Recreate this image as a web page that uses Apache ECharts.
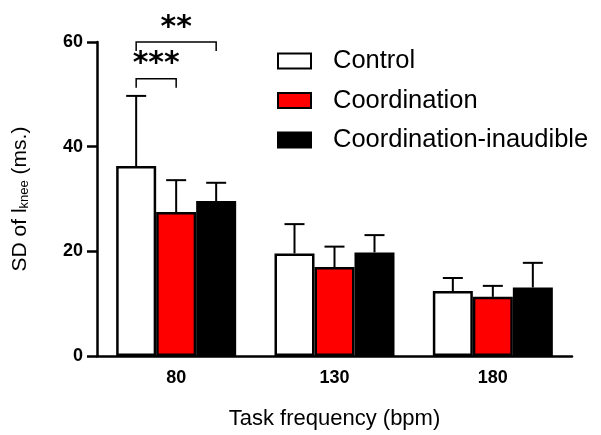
<!DOCTYPE html>
<html><head><meta charset="utf-8">
<script src="https://cdn.jsdelivr.net/npm/echarts@6/dist/echarts.min.js"></script>
<style>html,body{margin:0;padding:0;background:#fff}#c{width:601px;height:435px}</style>
</head><body><div id="c"></div>
<script>
const categories = ['80', '130', '180'];
const seriesNames = ['Control', 'Coordination', 'Coordination-inaudible'];
const controlMean = [36.3, 19.6, 12.4];
const controlSD = [13.4, 5.6, 2.5];
const coordMean = [27.5, 17.0, 11.3];
const coordSD = [6.1, 3.9, 2.1];
const inaudMean = [29.6, 19.8, 13.1];
const inaudSD = [3.5, 3.3, 4.7];
const yTicks = [0, 20, 40, 60];
// significance brackets (category 80): from series, to series, bracket level, label
const sigLabels = ['***', '**'];
const sigFrom = [0, 0];
const sigTo = [1, 2];
const sigLevel = [53, 60];

const means = [controlMean, coordMean, inaudMean];
const sds = [controlSD, coordSD, inaudSD];
const colors = ['#ffffff', '#ff0000', '#000000'];
const BAR_W = 40;
const FONT = '"Liberation Sans", Arial, sans-serif';

const chart = echarts.init(document.getElementById('c'), null, {renderer: 'canvas'});

const series = [];
means.forEach((m, i) => {
  series.push({
    name: seriesNames[i], type: 'bar', data: m, barWidth: BAR_W, barGap: '0%',
    itemStyle: {color: colors[i], borderColor: '#000', borderWidth: 2.5},
    z: 2
  });
});
means.forEach((m, i) => {
  series.push({
    type: 'custom', name: seriesNames[i] + ' SD', z: 3,
    data: m.map((v, k) => [k, v, v + sds[i][k]]),
    renderItem: function (params, api) {
      const c0 = api.coord([api.value(0), api.value(1)]);
      const c1 = api.coord([api.value(0), api.value(2)]);
      const x = c0[0] + (i - 1) * BAR_W;
      const half = 10;
      const st = {stroke: '#000', lineWidth: 2};
      return {type: 'group', children: [
        {type: 'line', shape: {x1: x, y1: c0[1], x2: x, y2: c1[1]}, style: st},
        {type: 'line', shape: {x1: x - half, y1: c1[1], x2: x + half, y2: c1[1]}, style: st}
      ]};
    }
  });
});

chart.setOption({
  animation: false,
  backgroundColor: '#fff',
  grid: {left: 97, right: 29, top: 42, bottom: 75},
  legend: {
    data: seriesNames.map(n => ({name: n, icon: 'rect'})), orient: 'vertical', left: 277, top: 46, padding: 0,
    itemWidth: 33, itemHeight: 15, itemGap: 9.5,
    textStyle: {fontFamily: FONT, fontSize: 25.5, color: '#000', padding: [0, 0, 0, 17], lineHeight: 30},
    selectedMode: false
  },
  xAxis: {
    type: 'category', data: categories,
    name: 'Task frequency (bpm)', nameLocation: 'middle', nameGap: 52,
    nameTextStyle: {fontFamily: FONT, fontSize: 22, color: '#000'},
    axisLine: {lineStyle: {color: '#000', width: 2.5}},
    axisTick: {alignWithLabel: true, length: 10, lineStyle: {color: '#000', width: 2.5}},
    axisLabel: {fontFamily: FONT, fontSize: 18, fontWeight: 'bold', color: '#000', margin: 13}
  },
  yAxis: {
    type: 'value', min: yTicks[0], max: yTicks[yTicks.length - 1], interval: yTicks[1] - yTicks[0],
    name: 'SD of l{sub|knee} (ms.)', nameLocation: 'middle', nameGap: 66,
    nameTextStyle: {fontFamily: FONT, fontSize: 21, color: '#000',
      rich: {sub: {fontFamily: FONT, fontSize: 13, color: '#000', verticalAlign: 'bottom', padding: [8, 0, 0, 0]}}},
    axisLine: {show: true, lineStyle: {color: '#000', width: 2.5}},
    axisTick: {show: true, length: 10, lineStyle: {color: '#000', width: 2.5}},
    splitLine: {show: false},
    axisLabel: {fontFamily: FONT, fontSize: 18, fontWeight: 'bold', color: '#000', margin: 14}
  },
  series: series
});

// significance brackets
const graphics = [];
sigLabels.forEach((lab, j) => {
  const cx = chart.convertToPixel({xAxisIndex: 0}, categories[0]);
  const xa = cx + (sigFrom[j] - 1) * BAR_W;
  const xb = cx + (sigTo[j] - 1) * BAR_W;
  const yTop = chart.convertToPixel({yAxisIndex: 0}, sigLevel[j]);
  const yLeg = yTop + 9;
  const st = {stroke: '#000', lineWidth: 1.5, fill: null};
  graphics.push({type: 'polyline', shape: {points: [[xa, yLeg], [xa, yTop], [xb, yTop], [xb, yLeg]]}, style: st, z: 10});
  graphics.push({type: 'text', x: (xa + xb) / 2, y: yTop - 14,
    style: {text: lab, font: 'bold 30px "DejaVu Sans", sans-serif', fill: '#000', align: 'center', verticalAlign: 'middle'}, z: 10});
});
chart.setOption({graphic: graphics});
</script></body></html>
